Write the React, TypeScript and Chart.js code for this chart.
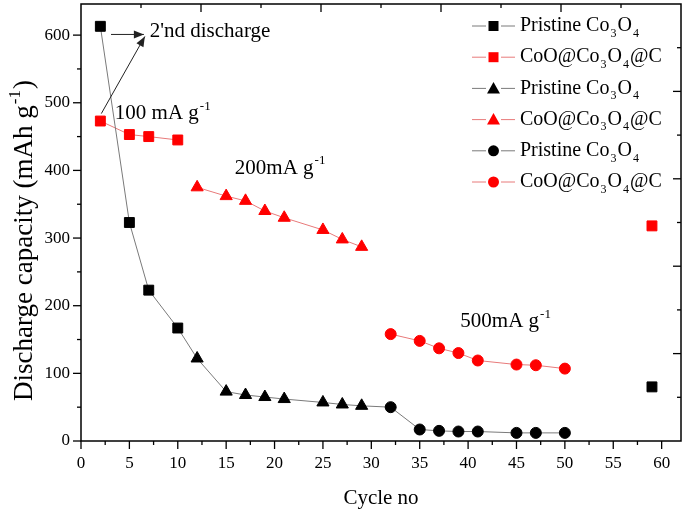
import React, { useEffect, useRef } from "react";
import { Chart, registerables } from "chart.js";

Chart.register(...registerables);

// ---------- data ----------
const cycles100 = [2, 5, 7, 10];
const pristine100 = [613, 323, 223, 167];
const composite100 = [473, 453, 450, 445];

const cycles200 = [12, 15, 17, 19, 21, 25, 27, 29];
const pristine200 = [122, 73, 68, 65, 62, 57, 54, 52];
const composite200 = [375, 362, 355, 340, 330, 312, 298, 287];

const cycles500 = [32, 35, 37, 39, 41, 45, 47, 50];
const pristine500 = [50, 17, 15, 14, 14, 12, 12, 12];
const composite500 = [158, 148, 137, 130, 119, 113, 112, 107];

const recoveryCycle = 59;
const pristineRecovery = 80;
const compositeRecovery = 318;

const xTicks = [0, 5, 10, 15, 20, 25, 30, 35, 40, 45, 50, 55, 60];
const yTicks = [0, 100, 200, 300, 400, 500, 600];
const X_MAX = 62;
const Y_MAX = 646;

const legendLabels = [
  "Pristine Co_3O_4",
  "CoO@Co_3O_4@C",
  "Pristine Co_3O_4",
  "CoO@Co_3O_4@C",
  "Pristine Co_3O_4",
  "CoO@Co_3O_4@C",
];

const SERIF = '"Liberation Serif", "Times New Roman", serif';
const RED = "#ff0000";
const BLACK = "#000000";
const RED_LINE = "#e87a7a";
const GREY_LINE = "#7a7a7a";

const pts = (xs: number[], ys: number[]) => xs.map((x, i) => ({ x, y: ys[i] }));

// draw text with _sub and ^sup segments
function richText(ctx: CanvasRenderingContext2D, text: string, x: number, y: number, size: number) {
  const parts: { t: string; k: "n" | "sub" | "sup" }[] = [];
  let i = 0;
  let buf = "";
  while (i < text.length) {
    const c = text[i];
    if (c === "_" || c === "^") {
      if (buf) parts.push({ t: buf, k: "n" });
      buf = "";
      let j = i + 1;
      let s = "";
      if (text[j] === "{") {
        j++;
        while (text[j] !== "}") s += text[j++];
        j++;
      } else {
        s = text[j++];
      }
      parts.push({ t: s, k: c === "_" ? "sub" : "sup" });
      i = j;
    } else {
      buf += c;
      i++;
    }
  }
  if (buf) parts.push({ t: buf, k: "n" });
  let cx = x;
  for (const p of parts) {
    if (p.k === "n") {
      ctx.font = `${size}px ${SERIF}`;
      ctx.fillText(p.t, cx, y);
      cx += ctx.measureText(p.t).width;
    } else {
      const s = Math.round(size * 0.62);
      ctx.font = `${s}px ${SERIF}`;
      const dy = p.k === "sub" ? size * 0.38 : -size * 0.45;
      ctx.fillText(p.t, cx + 1, y + dy);
      cx += ctx.measureText(p.t).width + 2;
    }
  }
  return cx - x;
}

function marker(ctx: CanvasRenderingContext2D, style: string, x: number, y: number, color: string) {
  ctx.fillStyle = color;
  ctx.beginPath();
  if (style === "rect") {
    ctx.rect(x - 5, y - 5, 10, 10);
  } else if (style === "triangle") {
    ctx.moveTo(x, y - 6.5);
    ctx.lineTo(x + 6.5, y + 5);
    ctx.lineTo(x - 6.5, y + 5);
    ctx.closePath();
  } else {
    ctx.arc(x, y, 5.5, 0, Math.PI * 2);
  }
  ctx.fill();
}

function arrow(ctx: CanvasRenderingContext2D, x1: number, y1: number, x2: number, y2: number) {
  ctx.strokeStyle = "#222";
  ctx.fillStyle = "#222";
  ctx.lineWidth = 1;
  ctx.beginPath();
  ctx.moveTo(x1, y1);
  ctx.lineTo(x2, y2);
  ctx.stroke();
  const a = Math.atan2(y2 - y1, x2 - x1);
  const L = 10;
  const W = 4;
  ctx.beginPath();
  ctx.moveTo(x2, y2);
  ctx.lineTo(x2 - L * Math.cos(a) + W * Math.sin(a), y2 - L * Math.sin(a) - W * Math.cos(a));
  ctx.lineTo(x2 - L * Math.cos(a) - W * Math.sin(a), y2 - L * Math.sin(a) + W * Math.cos(a));
  ctx.closePath();
  ctx.fill();
}

const decorPlugin = {
  id: "decor",
  afterDraw(chart: any) {
    const { ctx, chartArea: a, scales } = chart;
    const xs = scales.x;
    const ys = scales.y;
    ctx.save();
    // frame
    ctx.strokeStyle = "#000";
    ctx.lineWidth = 1.5;
    ctx.strokeRect(a.left, a.top, a.right - a.left, a.bottom - a.top);
    ctx.lineWidth = 1.3;
    // bottom ticks (outward)
    for (let v = 0; v <= 60; v += 2.5) {
      const px = xs.getPixelForValue(v);
      const major = v % 5 === 0;
      ctx.beginPath();
      ctx.moveTo(px, a.bottom);
      ctx.lineTo(px, a.bottom + (major ? 8 : 4));
      ctx.stroke();
    }
    // left ticks (outward)
    for (let v = 0; v <= 600; v += 50) {
      const py = ys.getPixelForValue(v);
      const major = v % 100 === 0;
      ctx.beginPath();
      ctx.moveTo(a.left, py);
      ctx.lineTo(a.left - (major ? 8 : 4), py);
      ctx.stroke();
    }
    // top & right ticks (inward, 5 divisions)
    const DIV = 10;
    for (let k = 1; k < DIV; k++) {
      const major = k % 2 === 0;
      const px = a.left + ((a.right - a.left) * k) / DIV;
      ctx.beginPath();
      ctx.moveTo(px, a.top);
      ctx.lineTo(px, a.top + (major ? 8 : 4));
      ctx.stroke();
      const py = a.bottom - ((a.bottom - a.top) * k) / DIV;
      ctx.beginPath();
      ctx.moveTo(a.right, py);
      ctx.lineTo(a.right - (major ? 8 : 4), py);
      ctx.stroke();
    }

    // axis titles
    ctx.fillStyle = "#000";
    ctx.textBaseline = "alphabetic";
    ctx.font = `21px ${SERIF}`;
    ctx.textAlign = "center";
    ctx.fillText("Cycle no", (a.left + a.right) / 2, a.bottom + 63);
    ctx.textAlign = "left";
    const TS = 27;
    ctx.save();
    ctx.translate(32, (a.top + a.bottom) / 2 + 18);
    ctx.rotate(-Math.PI / 2);
    const tmp = document.createElement("canvas").getContext("2d")!;
    const w = richText(tmp, "Discharge capacity (mAh g^{-1})", 0, 0, TS);
    ctx.fillStyle = "#000";
    richText(ctx, "Discharge capacity (mAh g^{-1})", -w / 2, 0, TS);
    ctx.restore();

    // annotations
    ctx.fillStyle = "#000";
    richText(ctx, "2'nd discharge", xs.getPixelForValue(7.1), ys.getPixelForValue(597), 21);
    richText(ctx, "100 mA g^{-1}", xs.getPixelForValue(3.5), ys.getPixelForValue(476), 21);
    richText(ctx, "200mA g^{-1}", xs.getPixelForValue(15.9), ys.getPixelForValue(395), 21);
    richText(ctx, "500mA g^{-1}", xs.getPixelForValue(39.2), ys.getPixelForValue(168), 21);
    arrow(ctx, xs.getPixelForValue(3.1), ys.getPixelForValue(601), xs.getPixelForValue(6.5), ys.getPixelForValue(601));
    arrow(ctx, xs.getPixelForValue(2.1), ys.getPixelForValue(484), xs.getPixelForValue(6.6), ys.getPixelForValue(598));

    // legend
    const styles = ["rect", "rect", "triangle", "triangle", "circle", "circle"];
    const colors = [BLACK, RED, BLACK, RED, BLACK, RED];
    const lines = [GREY_LINE, RED_LINE, GREY_LINE, RED_LINE, GREY_LINE, RED_LINE];
    const lx = 472;
    const ly = a.top + 22;
    const step = 31.2;
    legendLabels.forEach((lab, i) => {
      const y = ly + i * step;
      ctx.strokeStyle = lines[i];
      ctx.lineWidth = 1;
      ctx.beginPath();
      ctx.moveTo(lx, y);
      ctx.lineTo(lx + 14, y);
      ctx.moveTo(lx + 29, y);
      ctx.lineTo(lx + 43, y);
      ctx.stroke();
      marker(ctx, styles[i], lx + 21.5, y, colors[i]);
      ctx.fillStyle = "#000";
      ctx.textBaseline = "middle";
      richText(ctx, lab, 520, y, 20);
      ctx.textBaseline = "alphabetic";
    });
    ctx.restore();
  },
};

function seriesDataset(data: any[], style: string, color: string, lineColor: string, radius: number) {
  return {
    data,
    showLine: true,
    spanGaps: false,
    borderColor: lineColor,
    borderWidth: 1,
    pointStyle: style,
    pointRadius: radius,
    pointBackgroundColor: color,
    pointBorderColor: color,
    pointBorderWidth: 1,
    tension: 0,
  };
}

export default function App() {
  const ref = useRef<HTMLCanvasElement>(null);
  useEffect(() => {
    if (!ref.current) return;
    const connector = [
      { x: cycles100[cycles100.length - 1], y: pristine100[pristine100.length - 1] },
      { x: cycles200[0], y: pristine200[0] },
      { x: 20, y: null },
      { x: cycles200[cycles200.length - 1], y: pristine200[pristine200.length - 1] },
      { x: cycles500[0], y: pristine500[0] },
    ];
    const chart = new Chart(ref.current, {
      type: "scatter",
      data: {
        datasets: [
          seriesDataset([...pts(cycles100, pristine100), { x: 30, y: null }, { x: recoveryCycle, y: pristineRecovery }], "rect", BLACK, GREY_LINE, 7),
          seriesDataset([...pts(cycles100, composite100), { x: 30, y: null }, { x: recoveryCycle, y: compositeRecovery }], "rect", RED, RED_LINE, 7),
          seriesDataset(pts(cycles200, pristine200), "triangle", BLACK, GREY_LINE, 7),
          seriesDataset(pts(cycles200, composite200), "triangle", RED, RED_LINE, 7),
          seriesDataset(pts(cycles500, pristine500), "circle", BLACK, GREY_LINE, 5.5),
          seriesDataset(pts(cycles500, composite500), "circle", RED, RED_LINE, 5.5),
          {
            data: connector,
            showLine: true,
            spanGaps: false,
            borderColor: GREY_LINE,
            borderWidth: 1,
            pointRadius: 0,
            tension: 0,
          },
        ] as any,
      },
      options: {
        animation: false,
        responsive: false,
        layout: { padding: 0 },
        plugins: { legend: { display: false }, tooltip: { enabled: false } },
        scales: {
          x: {
            type: "linear",
            min: 0,
            max: X_MAX,
            afterFit: (s: any) => {
              s.height = 70;
              s.paddingLeft = 0;
              s.paddingRight = 0;
              s.paddingTop = 0;
              s.paddingBottom = 0;
            },
            afterBuildTicks: (s: any) => {
              s.ticks = xTicks.map((v) => ({ value: v }));
            },
            grid: { display: false, drawTicks: false },
            border: { display: false },
            ticks: {
              padding: 12,
              color: "#000",
              font: { family: SERIF, size: 17 },
              maxRotation: 0,
              autoSkip: false,
            },
          },
          y: {
            type: "linear",
            min: 0,
            max: Y_MAX,
            afterFit: (s: any) => {
              s.width = 81;
              s.paddingLeft = 0;
              s.paddingRight = 0;
              s.paddingTop = 0;
              s.paddingBottom = 0;
            },
            afterBuildTicks: (s: any) => {
              s.ticks = yTicks.map((v) => ({ value: v }));
            },
            grid: { display: false, drawTicks: false },
            border: { display: false },
            ticks: {
              padding: 11,
              color: "#000",
              font: { family: SERIF, size: 17 },
              autoSkip: false,
            },
          },
        },
      },
      plugins: [decorPlugin],
    });
    return () => chart.destroy();
  }, []);
  return (
    <div style={{ position: "absolute", left: 0, top: 0, width: 685, height: 511, background: "#fff", overflow: "hidden" }}>
      <canvas
        ref={ref}
        width={689}
        height={515}
        style={{ display: "block", position: "absolute", left: 0, top: -4 }}
      />
    </div>
  );
}
